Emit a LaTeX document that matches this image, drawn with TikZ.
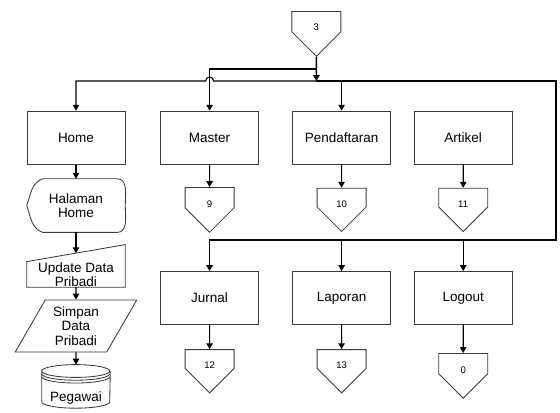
\documentclass[tikz,border=0pt]{standalone}
\usepackage{fontspec}
\setmainfont{Liberation Sans}
\usetikzlibrary{arrows.meta, positioning, shapes.geometric, shapes.symbols}
\definecolor{edge}{HTML}{3A3A3A}

\begin{document}
\begin{tikzpicture}[
    every node/.style={font=\fontsize{9.6}{10.2}\selectfont},
    menu/.style={rectangle, draw=edge, fill=white, line width=0.6pt, minimum width=2.45cm, minimum height=1.325cm, align=center},
    offpage/.style={signal, signal to=south, signal pointer angle=90, draw=edge, fill=white, line width=0.6pt, minimum width=1.225cm, minimum height=0.575cm, inner sep=0pt, text height=0.47cm, text depth=0pt, font=\fontsize{6.8}{8}\selectfont},
    textonly/.style={align=center, inner sep=0pt, minimum width=2.45cm},
    outline/.style={draw=edge, line width=0.6pt},
    flow/.style={-{Triangle[length=4.2pt, width=4.6pt]}, line width=0.8pt, color=black},
    heavy/.style={flow, line width=1.1pt}
]
\useasboundingbox (0,0) rectangle (14,10.3);

% Entry connector
\node[offpage] (c3) at (7.91,9.76) {3};
\coordinate (upper) at (7.91,8.575);
\coordinate (split) at (7.91,8.275);
\coordinate (loop)  at (13.9,4.3);

% Menu row 1
\node[menu] (home)   at (1.9,6.86)  {Home};
\node[menu] (master) at (5.24,6.86) {Master};
\node[menu] (daftar) at (8.54,6.86) {Pendaftaran};
\node[menu] (artikel) at (11.58,6.86) {Artikel};

% Menu row 2
\node[menu] (jurnal)  at (5.24,2.85)  {Jurnal};
\node[menu] (laporan) at (8.54,2.85)  {Laporan};
\node[menu] (logout)  at (11.58,2.85) {Logout};

% Off-page connectors
\node[offpage] (c9)  at (5.24,5.36)  {9};
\node[offpage] (c10) at (8.54,5.36)  {10};
\node[offpage] (c11) at (11.58,5.36) {11};
\node[offpage] (c12) at (5.24,1.325) {12};
\node[offpage] (c13) at (8.54,1.325) {13};
\node[offpage] (c0)  at (11.58,1.21) {0};

% Home branch
\node[textonly, minimum height=1.325cm] (halaman) at (1.9,5.16) {Halaman\\Home};
\draw[outline] ([xshift=0.4cm]halaman.north west) -- ([xshift=-0.2cm]halaman.north east)
    to[out=0,in=90] (halaman.east) to[out=-90,in=0] ([xshift=-0.2cm]halaman.south east)
    -- ([xshift=0.4cm]halaman.south west) to[out=160,in=-70] (halaman.west)
    to[out=70,in=200] cycle;
\node[textonly, minimum height=0.625cm] (upd) at (1.9,3.44) {Update Data\\Pribadi};
\draw[outline] (upd.south west) -- (upd.south east) -- ([yshift=0.425cm]upd.north east)
    -- (upd.north west) -- cycle;
\node[trapezium, trapezium left angle=60, trapezium right angle=120, outline, align=center,
      inner sep=0pt, minimum width=3.05cm, minimum height=1.1cm] (simpan) at (1.9,2.15) {Simpan\\Data\\Pribadi};
\node[textonly, minimum width=1.7cm, minimum height=1.075cm, text height=0.75cm, text depth=0pt] (peg) at (1.9,0.64) {Pegawai};
\draw[outline] ([yshift=-0.16cm]peg.north west) arc[start angle=180, end angle=-180, x radius=0.85cm, y radius=0.16cm]
    -- ([yshift=0.16cm]peg.south west) arc[start angle=180, end angle=360, x radius=0.85cm, y radius=0.16cm]
    -- ([yshift=-0.16cm]peg.north east);
\foreach \d in {0.07,0.14}
  \draw[outline] ([yshift=-0.16cm-\d cm]peg.north west) arc[start angle=180, end angle=360, x radius=0.85cm, y radius=0.16cm];

% Flows from the entry
\draw[heavy] (c3) -- (split);
\draw[flow] (split) -- (5.34,8.275) arc[start angle=0, end angle=180, radius=0.1] -| (home.north);
\draw[flow] (upper) -| (master.north);
\draw[flow] (daftar.north |- split) -- (daftar.north);
\draw[heavy] (split) -| (loop) -| (jurnal.north);
\draw[flow] (laporan.north |- loop) -- (laporan.north);
\draw[flow] (logout.north |- loop) -- (logout.north);

% Menu to connectors
\draw[flow] (master) -- (c9);
\draw[flow] (daftar) -- (c10);
\draw[flow] (artikel) -- (c11);
\draw[flow] (jurnal) -- (c12);
\draw[flow] (laporan) -- (c13);
\draw[flow] (logout) -- (c0);

% Home sequence
\draw[flow] (home) -- (halaman);
\draw[flow] (halaman) -- ([yshift=0.21cm]upd.north);
\draw[flow] (upd) -- (simpan);
\draw[flow] (simpan) -- (peg.north);
\end{tikzpicture}
\end{document}
